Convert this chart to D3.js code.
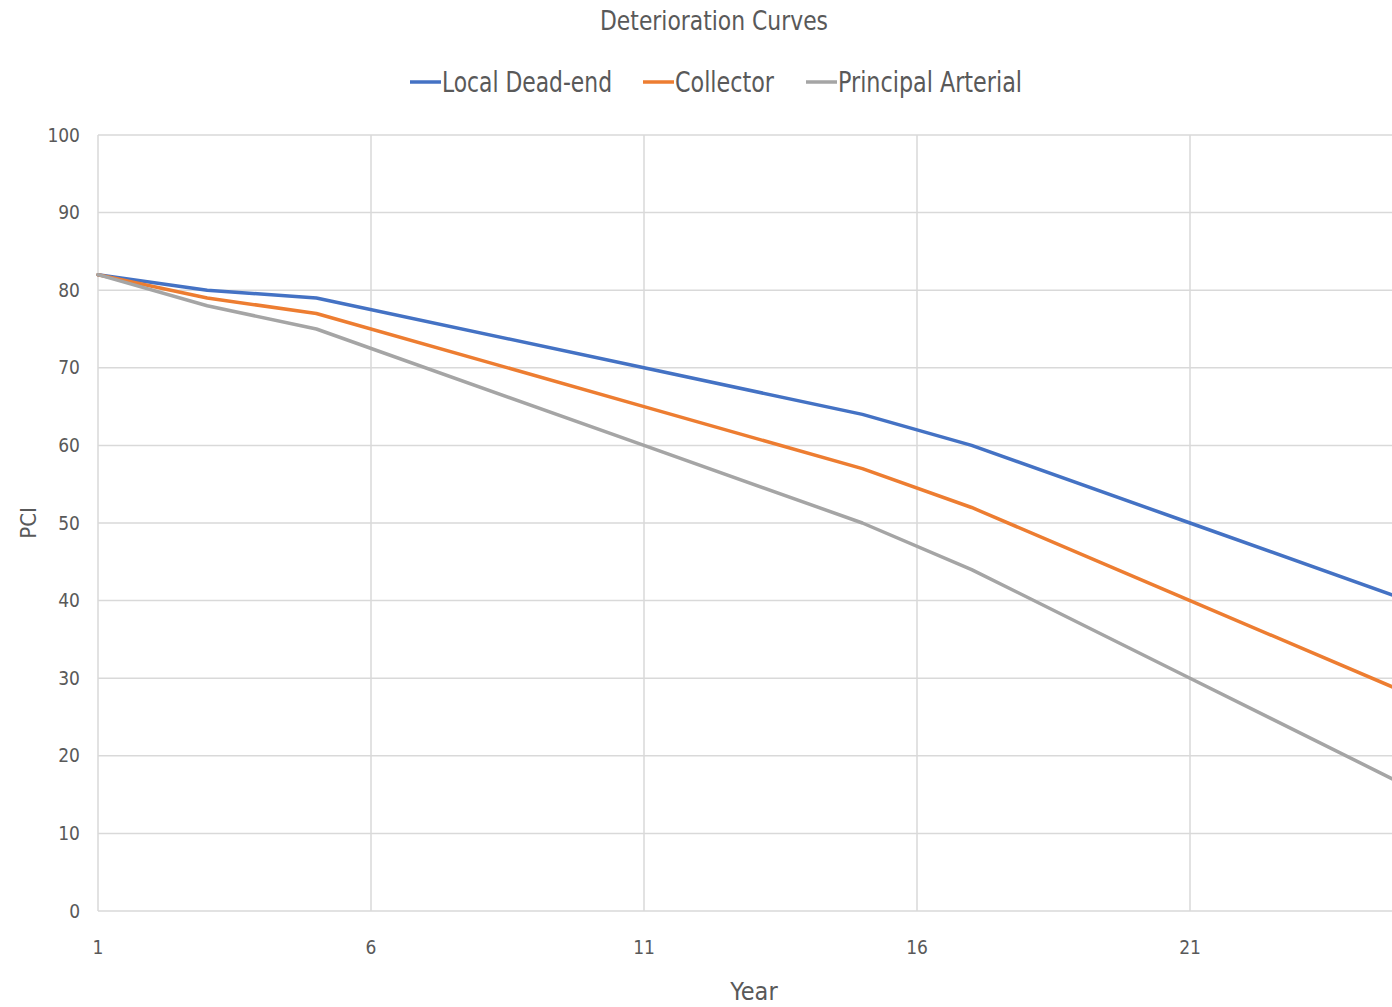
<!DOCTYPE html>
<html>
<head>
<meta charset="utf-8">
<script src="https://cdn.jsdelivr.net/npm/d3@7"></script>
<style>
  body { margin: 0; background: #fff; }
  svg { display: block; font-family: "DejaVu Sans Condensed", "Liberation Sans", sans-serif; }
</style>
</head>
<body>
<svg id="chart" width="1392" height="1007"></svg>
<script>
// data (breakpoints of each curve)
const years = [1, 3, 5, 11, 15, 17, 21, 25];
const localDeadEnd = [82, 80, 79, 70, 64, 60, 50, 40];
const collector = [82, 79, 77, 65, 57, 52, 40, 28];
const principalArterial = [82, 78, 75, 60, 50, 44, 30, 16];
const seriesNames = ['Local Dead-end', 'Collector', 'Principal Arterial'];
const xTicks = [1, 6, 11, 16, 21];
const yTicks = [0, 10, 20, 30, 40, 50, 60, 70, 80, 90, 100];

const colors = ['#4472C4', '#ED7D31', '#A5A5A5'];
const textColor = '#595959';
const gridColor = '#D9D9D9';

const svg = d3.select('#chart');
const plotLeft = 98, plotTop = 135, plotBottom = 911;

// category step is ~54.6px, so year 25 sits just past the right edge
const x = d3.scaleLinear().domain([1, 25]).range([plotLeft, plotLeft + 24 * 54.6]);
const y = d3.scaleLinear().domain([0, 100]).range([plotBottom, plotTop]);

// horizontal grid
svg.append('g')
	.selectAll('line')
	.data(yTicks)
	.enter()
	.append('line')
	.attr('x1', plotLeft)
	.attr('x2', 1392)
	.attr('y1', d => y(d))
	.attr('y2', d => y(d))
	.attr('stroke', gridColor)
	.attr('stroke-width', 1.5)
;

// vertical grid
svg.append('g')
	.selectAll('line')
	.data(xTicks)
	.enter()
	.append('line')
	.attr('x1', d => x(d))
	.attr('x2', d => x(d))
	.attr('y1', plotTop)
	.attr('y2', plotBottom)
	.attr('stroke', gridColor)
	.attr('stroke-width', 1.5)
;

// y tick labels
svg.append('g')
	.selectAll('text')
	.data(yTicks)
	.enter()
	.append('text')
	.attr('x', 80)
	.attr('y', d => y(d))
	.attr('dy', '0.35em')
	.attr('text-anchor', 'end')
	.attr('fill', textColor)
	.style('font-size', '19px')
	.text(d => d)
;

// x tick labels
svg.append('g')
	.selectAll('text')
	.data(xTicks)
	.enter()
	.append('text')
	.attr('x', d => x(d))
	.attr('y', 947)
	.attr('dy', '0.35em')
	.attr('text-anchor', 'middle')
	.attr('fill', textColor)
	.style('font-size', '19px')
	.text(d => d)
;

// axis titles
svg.append('text')
	.attr('x', 754)
	.attr('y', 991)
	.attr('dy', '0.35em')
	.attr('text-anchor', 'middle')
	.attr('fill', textColor)
	.style('font-size', '25px')
	.text('Year')
;

svg.append('text')
	.attr('transform', 'translate(28,523) rotate(-90)')
	.attr('dy', '0.35em')
	.attr('text-anchor', 'middle')
	.attr('fill', textColor)
	.style('font-size', '22px')
	.text('PCI')
;

// title
svg.append('text')
	.attr('x', 714)
	.attr('y', 21)
	.attr('dy', '0.35em')
	.attr('text-anchor', 'middle')
	.attr('fill', textColor)
	.attr('textLength', 228)
	.attr('lengthAdjust', 'spacingAndGlyphs')
	.style('font-size', '27px')
	.text('Deterioration Curves')
;

// lines
svg.append('clipPath')
	.attr('id', 'plotClip')
	.append('rect')
	.attr('x', 0)
	.attr('y', 0)
	.attr('width', 1392)
	.attr('height', 1007)
;

const allSeries = [localDeadEnd, collector, principalArterial];
const line = d3.line()
	.x((d, i) => x(years[i]))
	.y(d => y(d))
;

svg.append('g')
	.attr('clip-path', 'url(#plotClip)')
	.selectAll('path')
	.data(allSeries)
	.enter()
	.append('path')
	.attr('d', d => line(d))
	.attr('fill', 'none')
	.attr('stroke', (d, i) => colors[i])
	.attr('stroke-width', 3.5)
	.attr('stroke-linejoin', 'round')
	.attr('stroke-linecap', 'round')
;

// legend
const legendX = [410, 643, 806];
const legendTextWidth = [170, 99, 184];
const legend = svg.append('g')
	.selectAll('g')
	.data(seriesNames)
	.enter()
	.append('g')
;

legend.append('line')
	.attr('x1', (d, i) => legendX[i])
	.attr('x2', (d, i) => legendX[i] + 31)
	.attr('y1', 82)
	.attr('y2', 82)
	.attr('stroke', (d, i) => colors[i])
	.attr('stroke-width', 3.5)
;

legend.append('text')
	.attr('x', (d, i) => legendX[i] + 32)
	.attr('y', 82)
	.attr('dy', '0.35em')
	.attr('fill', textColor)
	.attr('textLength', (d, i) => legendTextWidth[i])
	.attr('lengthAdjust', 'spacingAndGlyphs')
	.style('font-size', '28px')
	.text(d => d)
;
</script>
</body>
</html>
